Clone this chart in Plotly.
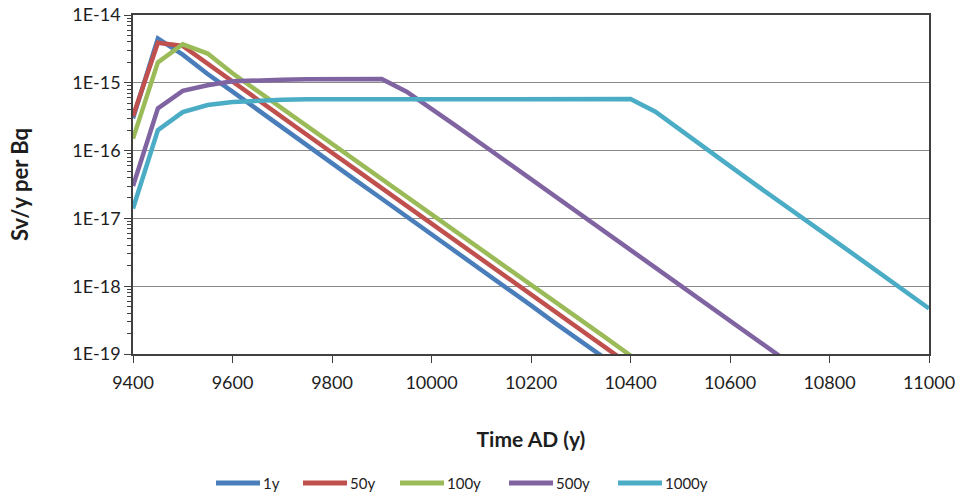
import plotly.graph_objects as go

# Dose rate per unit activity (Sv/y per Bq) sampled every 50 years,
# for five release durations.
years_1y = [9400, 9450, 9500, 9550, 9600, 9650, 9700, 9750, 9800, 9850, 9900, 9950,
            10000, 10050, 10100, 10150, 10200, 10250, 10300, 10350]
dose_1y = [3.0e-16, 4.5e-15, 2.6e-15, 1.35e-15, 7.4e-16, 4.0e-16, 2.2e-16, 1.2e-16,
           6.6e-17, 3.55e-17, 1.95e-17, 1.07e-17, 5.9e-18, 3.2e-18, 1.74e-18, 9.5e-19,
           5.2e-19, 2.8e-19, 1.55e-19, 8.5e-20]

years_50y = [9400, 9450, 9500, 9550, 9600, 9650, 9700, 9750, 9800, 9850, 9900, 9950,
             10000, 10050, 10100, 10150, 10200, 10250, 10300, 10350, 10400]
dose_50y = [3.2e-16, 3.9e-15, 3.5e-15, 1.9e-15, 1.05e-15, 5.75e-16, 3.16e-16, 1.7e-16,
            9.3e-17, 5.1e-17, 2.8e-17, 1.55e-17, 8.3e-18, 4.6e-18, 2.5e-18, 1.38e-18,
            7.6e-19, 4.1e-19, 2.24e-19, 1.23e-19, 6.8e-20]

years_100y = [9400, 9450, 9500, 9550, 9600, 9650, 9700, 9750, 9800, 9850, 9900, 9950,
              10000, 10050, 10100, 10150, 10200, 10250, 10300, 10350, 10400]
dose_100y = [1.5e-16, 2.0e-15, 3.7e-15, 2.7e-15, 1.38e-15, 7.6e-16, 4.2e-16, 2.3e-16,
             1.26e-16, 6.9e-17, 3.8e-17, 2.1e-17, 1.15e-17, 6.3e-18, 3.5e-18, 1.9e-18,
             1.05e-18, 5.75e-19, 3.16e-19, 1.74e-19, 9.5e-20]

years_500y = [9400, 9450, 9500, 9550, 9600, 9650, 9700, 9750, 9800, 9850, 9900, 9950,
              10000, 10050, 10100, 10150, 10200, 10250, 10300, 10350, 10400, 10450,
              10500, 10550, 10600, 10650, 10700]
dose_500y = [3.0e-17, 4.2e-16, 7.6e-16, 9.2e-16, 1.05e-15, 1.09e-15, 1.11e-15, 1.13e-15,
             1.14e-15, 1.15e-15, 1.14e-15, 7.4e-16, 4.2e-16, 2.3e-16, 1.26e-16, 6.9e-17,
             3.8e-17, 2.1e-17, 1.15e-17, 6.3e-18, 3.4e-18, 1.86e-18, 1.02e-18, 5.6e-19,
             3.1e-19, 1.7e-19, 9.3e-20]

years_1000y = [9400, 9450, 9500, 9550, 9600, 9650, 9700, 9750, 9800, 9850, 9900, 9950,
               10000, 10050, 10100, 10150, 10200, 10250, 10300, 10350, 10400, 10450,
               10500, 10550, 10600, 10650, 10700, 10750, 10800, 10850, 10900, 10950, 11000]
dose_1000y = [1.4e-17, 2.0e-16, 3.7e-16, 4.7e-16, 5.2e-16, 5.5e-16, 5.6e-16, 5.7e-16,
              5.7e-16, 5.75e-16, 5.75e-16, 5.75e-16, 5.75e-16, 5.75e-16, 5.75e-16, 5.75e-16,
              5.75e-16, 5.75e-16, 5.75e-16, 5.75e-16, 5.75e-16, 3.75e-16, 2.0e-16, 1.07e-16,
              5.9e-17, 3.2e-17, 1.78e-17, 9.7e-18, 5.3e-18, 2.9e-18, 1.58e-18, 8.6e-19, 4.7e-19]

series_names = ["1y", "50y", "100y", "500y", "1000y"]
series_colors = ["#4A7EBB", "#C0504D", "#9BBB59", "#8064A2", "#4BACC6"]
series_years = [years_1y, years_50y, years_100y, years_500y, years_1000y]
series_dose = [dose_1y, dose_50y, dose_100y, dose_500y, dose_1000y]

x_ticks = [9400, 9600, 9800, 10000, 10200, 10400, 10600, 10800, 11000]
y_ticks = [1e-14, 1e-15, 1e-16, 1e-17, 1e-18, 1e-19]
y_tick_labels = ["1E-14", "1E-15", "1E-16", "1E-17", "1E-18", "1E-19"]

FONT = "Lato, 'Open Sans', sans-serif"
TEXT = "#1e1e1e"
W, H = 955, 494
MARGIN = dict(l=133, r=26, t=15, b=140)
PLOT_W = W - MARGIN["l"] - MARGIN["r"]
PLOT_H = H - MARGIN["t"] - MARGIN["b"]


def px_to_paper_x(px):
    return (px - MARGIN["l"]) / PLOT_W


def px_to_paper_y(py):
    return 1 - (py - MARGIN["t"]) / PLOT_H


fig = go.Figure()
for name, xs, ys, color in zip(series_names, series_years, series_dose, series_colors):
    fig.add_trace(go.Scatter(
        x=xs, y=ys, name=name, mode="lines",
        line=dict(color=color, width=4.5),
        showlegend=False,
    ))

# Legend row below the axis title: a short coloured stroke followed by its label.
legend_left = [216, 303, 400, 509, 618]   # left end of each stroke, page pixels
legend_row = 483
stroke_len = 44
for left, name, color in zip(legend_left, series_names, series_colors):
    yy = px_to_paper_y(legend_row)
    fig.add_shape(
        type="line", xref="paper", yref="paper",
        x0=px_to_paper_x(left), x1=px_to_paper_x(left + stroke_len),
        y0=yy, y1=yy,
        line=dict(color=color, width=5),
    )
    fig.add_annotation(
        xref="paper", yref="paper", x=px_to_paper_x(left + stroke_len + 2), y=yy,
        text=name, showarrow=False, xanchor="left", yanchor="middle",
        borderpad=0, font=dict(size=15, color=TEXT),
    )

fig.update_layout(
    width=W, height=H,
    margin=MARGIN,
    paper_bgcolor="white", plot_bgcolor="white",
    font=dict(family=FONT, size=18, color=TEXT),
    showlegend=False,
)

fig.update_xaxes(
    range=[9400, 11000],
    tickvals=x_ticks,
    ticktext=[str(v) for v in x_ticks],
    ticks="outside", ticklen=7, tickcolor="#404040", ticklabelstandoff=5,
    ticklabeloverflow="allow",
    showline=True, linecolor="#404040", linewidth=1.5, mirror=True,
    showgrid=False, zeroline=False, automargin=False,
    title=dict(text="<b>Time AD (y)</b>", font=dict(size=21, color=TEXT), standoff=40),
)

fig.update_yaxes(
    type="log",
    range=[-19, -14],
    tickvals=y_ticks,
    ticktext=y_tick_labels,
    ticks="outside", ticklen=7, tickcolor="#404040",
    minor=dict(ticks="outside", ticklen=4, tickcolor="#404040", dtick="D1", showgrid=False),
    showline=True, linecolor="#404040", linewidth=1.5, mirror=True,
    showgrid=True, gridcolor="#8a8a8a", gridwidth=1.3,
    zeroline=False, automargin=False,
    title=dict(text="<b>Sv/y per Bq</b>", font=dict(size=22, color=TEXT), standoff=38),
)

fig.write_html("out.html")
